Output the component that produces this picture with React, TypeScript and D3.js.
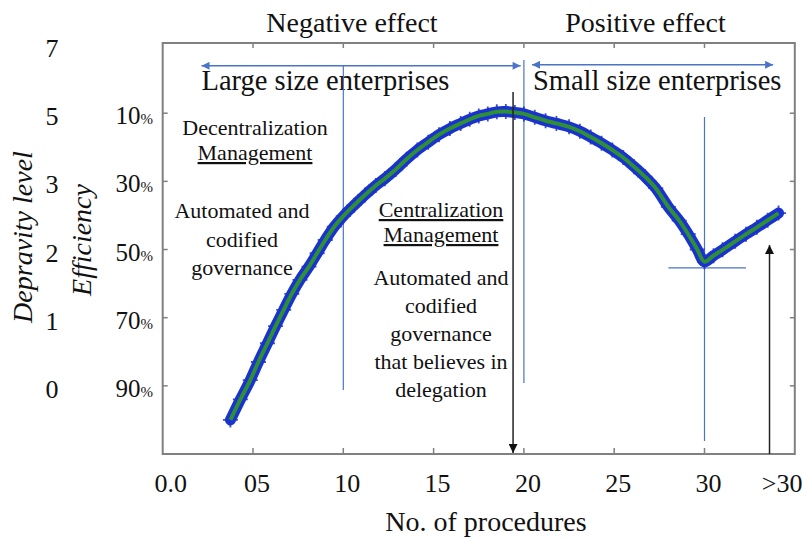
import React from 'react';
import * as d3 from 'd3';

// values
const procedures = [3.75, 4.3, 4.85, 5.3, 5.8, 6.25, 6.7, 7.15, 7.6, 8.1, 8.55, 9.0, 9.5, 10.0, 10.6, 11.2, 11.8, 12.3, 12.9, 13.5, 14.1, 14.7, 15.3, 15.9, 16.5, 17.0, 17.5, 18.0, 18.5, 19.0, 19.5, 20.0, 20.6, 21.2, 21.8, 22.5, 23.1, 23.7, 24.3, 24.9, 25.5, 26.1, 26.7, 27.3, 28.0, 28.6, 29.1, 29.6, 30.0, 30.5, 31.0, 31.7, 32.3, 32.9, 33.5, 34.1];
const efficiency = [100, 94, 88.3, 83, 77.5, 72.5, 67.7, 63, 58.9, 55, 51.1, 47.2, 43.3, 40.2, 37, 34, 31.2, 29.2, 26.5, 23.5, 20.8, 18.5, 16.3, 14.5, 13, 11.8, 10.8, 10.2, 9.6, 9.5, 9.8, 10.2, 11.2, 12.2, 13, 14, 15.3, 17, 18.8, 20.8, 23, 25.7, 28.6, 32, 37.5, 41.5, 45.5, 50, 53.6, 51.8, 50.1, 47.6, 45.5, 43.5, 41.4, 39.3];

const xTicks = [0, 5, 10, 15, 20, 25, 30];
const xTickLabels = ['0.0', '05', '10', '15', '20', '25', '30'];
const effTicks = [10, 30, 50, 70, 90];
const depravityLabels = ['7', '5', '3', '2', '1', '0'];
const depravityAt = [-10, 10, 30, 50, 70, 90];

const leftNotes = ['Automated and', 'codified', 'governance'];
const midNotes = ['Automated and', 'codified', 'governance', 'that believes in', 'delegation'];

const W = 807, H = 539;
const serif = "'Liberation Serif', Tinos, 'Times New Roman', 'DejaVu Serif', serif";
const blue = '#1a32cf';
const green = '#2f8f35';
const guide = '#4a74c6';
const ink = '#111';

export default function App() {
  const x = d3.scaleLinear().domain([0, 35]).range([162.7, 794.8]);
  const y = d3.scaleLinear().domain([-10.6, 110]).range([43, 454]);
  const pts: [number, number][] = procedures.map((p, i) => [x(p), y(efficiency[i])]);
  const line = d3.line().curve(d3.curveCatmullRom.alpha(0.5));
  const path = line(pts) || '';
  const left = x(0), right = x(35), top = y(-10.6), bottom = y(110);
  const T = { fontFamily: serif, fill: ink } as const;

  const vGuides = [
    { at: 10, from: -4, to: 91.2 },
    { at: 20, from: -5.6, to: 89.2 },
    { at: 30, from: 11.1, to: 106.2 },
  ];

  return (
    <svg width={W} height={H} style={{ position: 'absolute', left: 0, top: 0, background: '#fff', fontFamily: serif }}>
      <defs>
        <marker id="ba" viewBox="0 0 10 10" refX="10" refY="5" markerWidth="9" markerHeight="8" markerUnits="userSpaceOnUse" orient="auto-start-reverse">
          <path d="M0,0L10,5L0,10z" fill={guide} />
        </marker>
        <marker id="ka" viewBox="0 0 10 10" refX="10" refY="5" markerWidth="11" markerHeight="9" markerUnits="userSpaceOnUse" orient="auto">
          <path d="M0,0L10,5L0,10z" fill="#111" />
        </marker>
      </defs>

      {/* frame and inner ticks */}
      <rect x={left} y={top} width={right - left} height={bottom - top} fill="none" stroke="#808080" strokeWidth={2} />
      {xTicks.filter(t => t > 0).map(t => (
        <g key={'xt' + t} stroke="#808080" strokeWidth={1.5}>
          <line x1={x(t)} x2={x(t)} y1={bottom} y2={bottom - 6} />
          <line x1={x(t)} x2={x(t)} y1={top} y2={top + 5} />
        </g>
      ))}
      {effTicks.map(t => (
        <g key={'yt' + t} stroke="#808080" strokeWidth={1.5}>
          <line x1={left} x2={left + 5} y1={y(t)} y2={y(t)} />
          <line x1={right} x2={right - 5} y1={y(t)} y2={y(t)} />
        </g>
      ))}

      {/* x axis labels */}
      {xTicks.map((t, i) => (
        <text key={'xl' + t} {...T} x={x(t) + (t === 0 ? 8 : 4)} y={492} fontSize={26} textAnchor="middle">{xTickLabels[i]}</text>
      ))}
      <text {...T} x={x(34.3)} y={492} fontSize={26} textAnchor="middle">&gt;30</text>
      <text {...T} x={486} y={531} fontSize={28} textAnchor="middle">No. of procedures</text>

      {/* efficiency / depravity labels */}
      {effTicks.map(t => (
        <text key={'el' + t} {...T} x={153} y={y(t) + 11} textAnchor="end">
          <tspan fontSize={25}>{t}</tspan><tspan fontSize={15}>%</tspan>
        </text>
      ))}
      {depravityLabels.map((l, i) => (
        <text key={'dl' + l} {...T} x={52} y={y(depravityAt[i]) + 12} fontSize={26} textAnchor="middle">{l}</text>
      ))}
      <text {...T} transform="translate(32,237) rotate(-90)" fontSize={28} fontStyle="italic" textAnchor="middle">Depravity level</text>
      <text {...T} transform="translate(91,240) rotate(-90)" fontSize={28} fontStyle="italic" textAnchor="middle">Efficiency</text>

      {/* top titles and spans */}
      <text {...T} x={352} y={32} fontSize={28} textAnchor="middle">Negative effect</text>
      <text {...T} x={645.5} y={32} fontSize={28} textAnchor="middle">Positive effect</text>
      <line x1={x(2.15)} x2={x(19.82)} y1={y(-3.9)} y2={y(-3.9)} stroke={guide} strokeWidth={1.5} markerStart="url(#ba)" markerEnd="url(#ba)" />
      <line x1={x(20.45)} x2={x(33.8)} y1={y(-4.2)} y2={y(-4.2)} stroke={guide} strokeWidth={1.5} markerStart="url(#ba)" markerEnd="url(#ba)" />
      <text {...T} x={x(2.15)} y={90} fontSize={28.5}>Large size enterprises</text>
      <text {...T} x={x(20.5)} y={90} fontSize={28.5}>Small size enterprises</text>

      {/* guide lines */}
      {vGuides.map(g => (
        <line key={'vg' + g.at} x1={x(g.at)} x2={x(g.at)} y1={y(g.from)} y2={y(g.to)} stroke={guide} strokeWidth={1.2} />
      ))}
      <line x1={x(28)} x2={x(32.3)} y1={y(55.4)} y2={y(55.4)} stroke={guide} strokeWidth={1.2} />

      {/* notes */}
      <text {...T} x={255} y={135} fontSize={22} textAnchor="middle">Decentralization</text>
      <text {...T} x={255} y={160} fontSize={22} textAnchor="middle" textDecoration="underline">Management</text>
      {leftNotes.map((s, i) => (
        <text key={'ln' + i} {...T} x={242} y={218 + i * 28.5} fontSize={22} textAnchor="middle">{s}</text>
      ))}
      <text {...T} x={441} y={217} fontSize={22} textAnchor="middle" textDecoration="underline">Centralization</text>
      <text {...T} x={441} y={242} fontSize={22} textAnchor="middle" textDecoration="underline">Management</text>
      {midNotes.map((s, i) => (
        <text key={'mn' + i} {...T} x={441} y={285 + i * 28} fontSize={22} textAnchor="middle">{s}</text>
      ))}

      {/* data band */}
      <path d={path} fill="none" stroke={blue} strokeWidth={11} strokeLinejoin="round" strokeLinecap="round" />
      {pts.map(([px, py], i) => (
        <path key={'m' + i} d={`M${px - 7.5},${py}H${px + 7.5}M${px},${py - 7.5}V${py + 7.5}`} stroke={blue} strokeWidth={1.8} opacity={0.85} />
      ))}
      <path d={path} fill="none" stroke={green} strokeWidth={4} strokeLinejoin="round" />

      {/* black arrows */}
      <line x1={x(19.4)} x2={x(19.4)} y1={y(3.8)} y2={y(110) - 1} stroke="#222" strokeWidth={1.5} markerEnd="url(#ka)" />
      <line x1={x(33.6)} x2={x(33.6)} y1={y(110)} y2={y(48.7)} stroke="#222" strokeWidth={1.5} markerEnd="url(#ka)" />
    </svg>
  );
}
